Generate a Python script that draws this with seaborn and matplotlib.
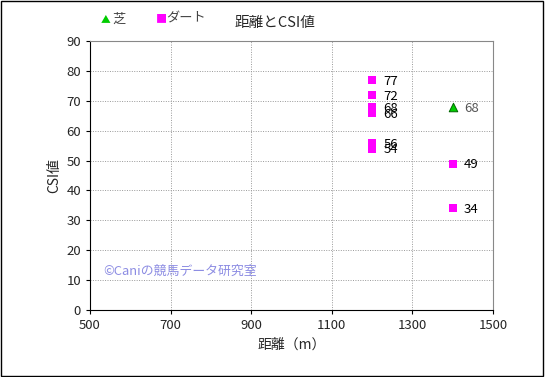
import matplotlib
matplotlib.use("Agg")
import matplotlib.pyplot as plt
import seaborn as sns
import pandas as pd

sns.set_style("white")
plt.rcParams['font.family'] = ['Noto Sans CJK JP', 'DejaVu Sans']

turf_dist = [1400]
turf_csi = [68]
dirt_dist = [1200, 1200, 1200, 1200, 1200, 1200, 1400, 1400]
dirt_csi = [77, 72, 68, 66, 56, 54, 49, 34]

df = pd.DataFrame({
    "dist": turf_dist + dirt_dist,
    "csi": turf_csi + dirt_csi,
    "surface": ["芝"] * len(turf_dist) + ["ダート"] * len(dirt_dist),
})

fig = plt.figure(figsize=(5.45, 3.77), dpi=100)
ax = fig.add_axes([90 / 545, 1 - 310 / 377, 403 / 545, 269 / 377])

sns.scatterplot(data=df[df.surface == "ダート"], x="dist", y="csi", ax=ax,
                marker="s", color="#FF00FF", s=36, edgecolor="#FF00FF", linewidth=0, legend=False, zorder=3)
sns.scatterplot(data=df[df.surface == "芝"], x="dist", y="csi", ax=ax,
                marker="^", color="#00CC00", s=38, edgecolor="#006600", linewidth=0.7, legend=False, zorder=3)

for x, y in zip(dirt_dist, dirt_csi):
    ax.annotate(str(y), (x, y), xytext=(8, -1), textcoords="offset points",
                va="center", ha="left", fontsize=9.5, color="black")
for x, y in zip(turf_dist, turf_csi):
    ax.annotate(str(y), (x, y), xytext=(8, -1), textcoords="offset points",
                va="center", ha="left", fontsize=9.5, color="#555555")

ax.set_xlim(500, 1500)
ax.set_ylim(0, 90)
ax.set_xticks(range(500, 1501, 200))
ax.set_yticks(range(0, 91, 10))
ax.grid(True, color="#999999", linestyle=(0, (1, 1.5)), linewidth=0.7)
ax.tick_params(axis="both", labelsize=9.5, length=3, direction="out", color="black")
ax.tick_params(bottom=True, left=True)
for s in ["left", "bottom"]:
    ax.spines[s].set_color("black")
    ax.spines[s].set_linewidth(0.8)
for s in ["top", "right"]:
    ax.spines[s].set_color("#888888")
    ax.spines[s].set_linewidth(0.8)

ax.set_xlabel("距離（m）", fontsize=10)
ax.set_ylabel("CSI値", fontsize=10)

ax.text(532, 13, "©Caniの競馬データ研究室", fontsize=9.3, color="#8080E0", alpha=0.9, va="center")

fig.text(275 / 545, 1 - 23 / 377, "距離とCSI値", ha="center", va="center", fontsize=10.5)
fig.text(106 / 545, 1 - 19 / 377, "▲", ha="center", va="center", fontsize=7, color="#00CC00")
fig.text(112 / 545, 1 - 19 / 377, "芝", ha="left", va="center", fontsize=9.5, color="#444444")
fig.text(161 / 545, 1 - 19 / 377, "■", ha="center", va="center", fontsize=8, color="#FF00FF")
fig.text(166 / 545, 1 - 19 / 377, "ダート", ha="left", va="center", fontsize=9.5, color="#444444")

border = plt.Rectangle((0.002, 0.003), 0.995, 0.994, transform=fig.transFigure,
                       fill=False, edgecolor="black", linewidth=1)
fig.patches.append(border)

fig.savefig("out.png", dpi=100)
